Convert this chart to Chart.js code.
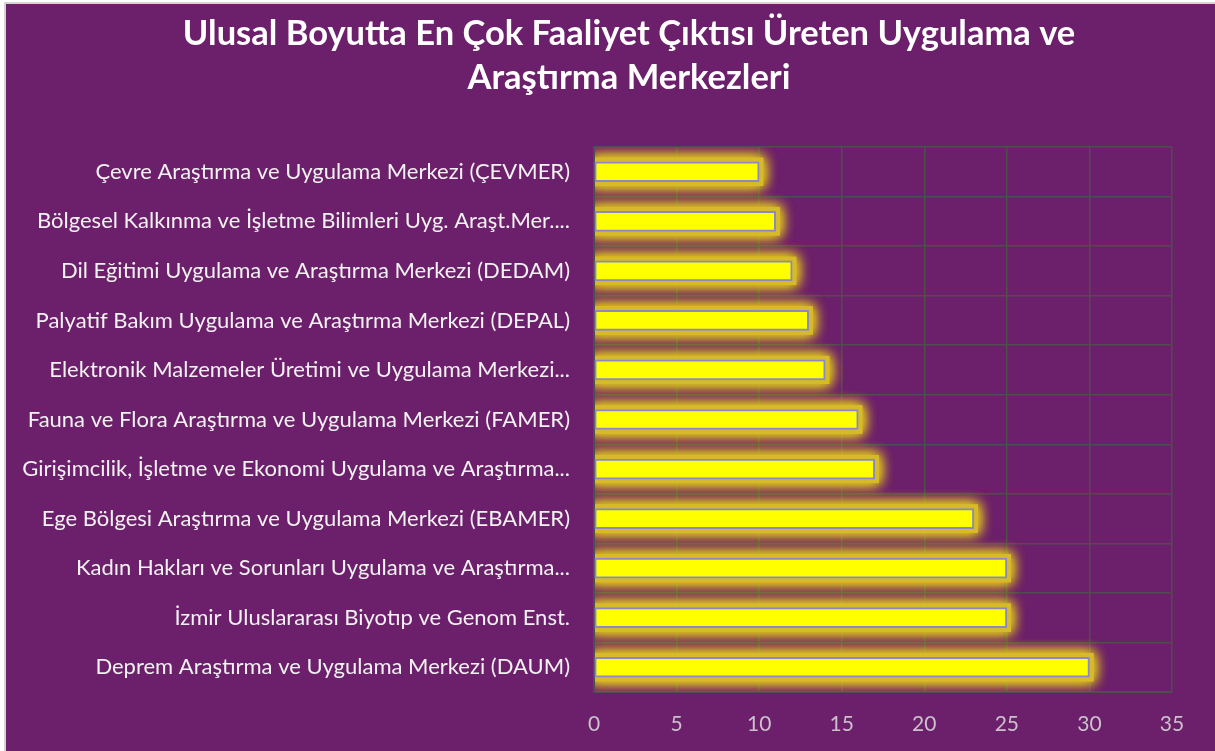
<!DOCTYPE html>
<html>
<head>
<meta charset="utf-8">
<script src="https://cdn.jsdelivr.net/npm/chart.js@4/dist/chart.umd.min.js"></script>
<style>
  html, body { margin: 0; padding: 0; background: #ffffff; }
  #wrap { position: absolute; left: 4px; top: 2px; width: 1209px; height: 749px; background: #6c1f6a; border-left: 2px solid #d4d4d4; border-top: 2px solid #d4d4d4; }
  #c { position: absolute; left: -6px; top: -4px; }
</style>
</head>
<body>
<div id="wrap"><canvas id="c" width="1215" height="751"></canvas></div>
<script>
const titleLines = ["Ulusal Boyutta En Çok Faaliyet Çıktısı Üreten Uygulama ve", "Araştırma Merkezleri"];
const categories = [
  "Çevre Araştırma ve Uygulama Merkezi (ÇEVMER)",
  "Bölgesel Kalkınma ve İşletme Bilimleri Uyg. Araşt.Mer....",
  "Dil Eğitimi Uygulama ve Araştırma Merkezi (DEDAM)",
  "Palyatif Bakım Uygulama ve Araştırma Merkezi (DEPAL)",
  "Elektronik Malzemeler Üretimi ve Uygulama Merkezi...",
  "Fauna ve Flora Araştırma ve Uygulama Merkezi (FAMER)",
  "Girişimcilik, İşletme ve Ekonomi Uygulama ve Araştırma...",
  "Ege Bölgesi Araştırma ve Uygulama Merkezi (EBAMER)",
  "Kadın Hakları ve Sorunları Uygulama ve Araştırma...",
  "İzmir Uluslararası Biyotıp ve Genom Enst.",
  "Deprem Araştırma ve Uygulama Merkezi (DAUM)"
];
const values = [10, 11, 12, 13, 14, 16, 17, 23, 25, 25, 30];
const xTicks = [0, 5, 10, 15, 20, 25, 30, 35];

// Glow behind bars: draw each bar's rectangle (from the library's computed element) with a blurred shadow
const glow = {
  id: 'glow',
  beforeDatasetDraw(chart, args) {
    const ctx = chart.ctx;
    const meta = args.meta;
    const ca = chart.chartArea;
    ctx.save();
    ctx.beginPath();
    ctx.rect(ca.left + 1, ca.top, ca.right - ca.left, ca.bottom - ca.top);
    ctx.clip();
    ctx.fillStyle = '#d6ba2a';
    ctx.shadowColor = 'rgba(222,196,30,1)';
    ctx.shadowBlur = 14;
    for (let pass = 0; pass < 3; pass++) {
      meta.data.forEach(el => {
        const p = el.getProps(['x', 'y', 'base', 'height'], true);
        const left = Math.min(p.x, p.base), w = Math.abs(p.x - p.base);
        ctx.fillRect(left - 4, p.y - p.height / 2 - 4, w + 8, p.height + 8);
      });
    }
    ctx.restore();
  }
};

// Title drawn centred over the chart frame, as in the original
const titlePlugin = {
  id: 'titleText',
  afterDraw(chart) {
    const ctx = chart.ctx;
    ctx.save();
    ctx.fillStyle = '#ffffff';
    ctx.font = 'bold 34.5px Lato';
    ctx.textAlign = 'center';
    ctx.textBaseline = 'middle';
    ctx.fillText(titleLines[0], 629, 34);
    ctx.fillText(titleLines[1], 629, 78);
    ctx.restore();
  }
};

new Chart(document.getElementById('c'), {
  type: 'bar',
  data: {
    labels: categories,
    datasets: [{
      data: values,
      backgroundColor: '#ffff00',
      borderColor: '#8c88c8',
      borderWidth: 2,
      borderSkipped: false,
      barThickness: 20
    }]
  },
  options: {
    indexAxis: 'y',
    responsive: false,
    animation: false,
    devicePixelRatio: 1,
    layout: { padding: { left: 0, right: 43, top: 147, bottom: 0 } },
    plugins: {
      legend: { display: false },
      tooltip: { enabled: false },
      title: { display: false }
    },
    scales: {
      x: {
        min: 0, max: 35,
        afterBuildTicks(scale) { scale.ticks = xTicks.map(v => ({ value: v })); },
        afterFit(scale) { scale.height = 59; },
        grid: { color: '#4e5048', lineWidth: 1.5, drawTicks: false },
        border: { color: '#4e4e4e', width: 2 },
        ticks: { color: '#cbc0cc', font: { family: 'Lato', size: 21 }, padding: 20 }
      },
      y: {
        afterFit(scale) { scale.width = 594; },
        grid: { color: '#4e4e4e', lineWidth: 1.5, drawTicks: false, offset: true },
        border: { color: '#4e4e4e', width: 2 },
        ticks: { color: '#f2f2f2', font: { family: 'Lato', size: 22 }, padding: 24, autoSkip: false }
      }
    }
  },
  plugins: [glow, titlePlugin]
});
</script>
</body>
</html>
